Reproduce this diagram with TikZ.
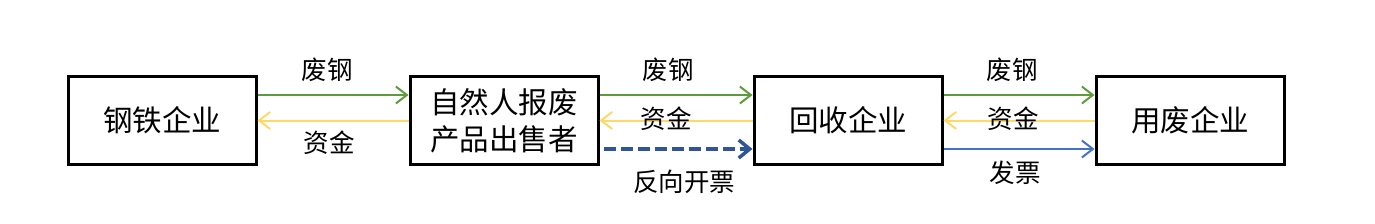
\documentclass[tikz,border=0pt]{standalone}
\usepackage{fontspec}
\setmainfont{Noto Sans CJK SC}
\usetikzlibrary{arrows.meta,positioning}
\definecolor{gangGreen}{HTML}{5E9B3C}
\definecolor{zijinYellow}{HTML}{FFD966}
\definecolor{fapiaoBlue}{HTML}{4472C4}
\definecolor{fanxiangBlue}{HTML}{2F5597}

\begin{document}
\begin{tikzpicture}[x=1pt, y=1pt,
  node distance=151pt,
  ent/.style={draw, line width=3pt, minimum width=188pt, minimum height=88pt,
              align=center, inner sep=0pt,
              font=\fontsize{29.5}{37}\selectfont},
  lbl/.style={font=\fontsize{25.5}{28}\selectfont, inner sep=0pt},
  flow/.style={line width=2pt, -{Straight Barb[length=11pt, width=17pt, line width=2pt]}},
  steel/.style={flow, draw=gangGreen},
  money/.style={flow, draw=zijinYellow},
  bill/.style={flow, draw=fapiaoBlue},
  rbill/.style={line width=3.5pt, draw=fanxiangBlue, dash pattern=on 12pt off 5pt,
                -{Straight Barb[length=11pt, width=18pt, line width=3.5pt]}}]
\useasboundingbox (0,0) rectangle (1375,-223);

\node[ent] (gangtie) at (162,-120.5) {钢铁企业};
\node[ent, right=of gangtie] (ziran) {自然人报废\\产品出售者};
\node[ent, right=153pt of ziran] (huishou) {回收企业};
\node[ent, right=of huishou] (yongfei) {用废企业};

% 钢铁企业 -- 自然人
\draw[steel] ([yshift=25.5pt]gangtie.east) -- ([yshift=25.5pt]ziran.west)
  node[midway, lbl, yshift=25pt, xshift=-6pt] {废钢};
\draw[money] (ziran.west) -- (gangtie.east)
  node[midway, lbl, yshift=-22pt, xshift=-4pt] {资金};

% 自然人 -- 回收企业
\draw[steel] ([yshift=25.5pt]ziran.east) -- ([yshift=25.5pt]huishou.west)
  node[midway, lbl, yshift=25pt, xshift=-8pt] {废钢};
\draw[money] (huishou.west) -- (ziran.east)
  node[midway, lbl, yshift=2pt, xshift=-10pt] {资金};
\draw[rbill] ([xshift=4pt, yshift=-28.5pt]ziran.east) -- ([yshift=-28.5pt]huishou.west)
  node[midway, lbl, yshift=-33pt, xshift=6pt] {反向开票};

% 回收企业 -- 用废企业
\draw[steel] ([yshift=25.5pt]huishou.east) -- ([yshift=25.5pt]yongfei.west)
  node[midway, lbl, yshift=25pt, xshift=-7pt] {废钢};
\draw[money] (yongfei.west) -- (huishou.east)
  node[midway, lbl, yshift=2pt, xshift=-6pt] {资金};
\draw[bill] ([yshift=-28.5pt]huishou.east) -- ([yshift=-28.5pt]yongfei.west)
  node[midway, lbl, yshift=-24pt, xshift=-4pt] {发票};
\end{tikzpicture}
\end{document}
